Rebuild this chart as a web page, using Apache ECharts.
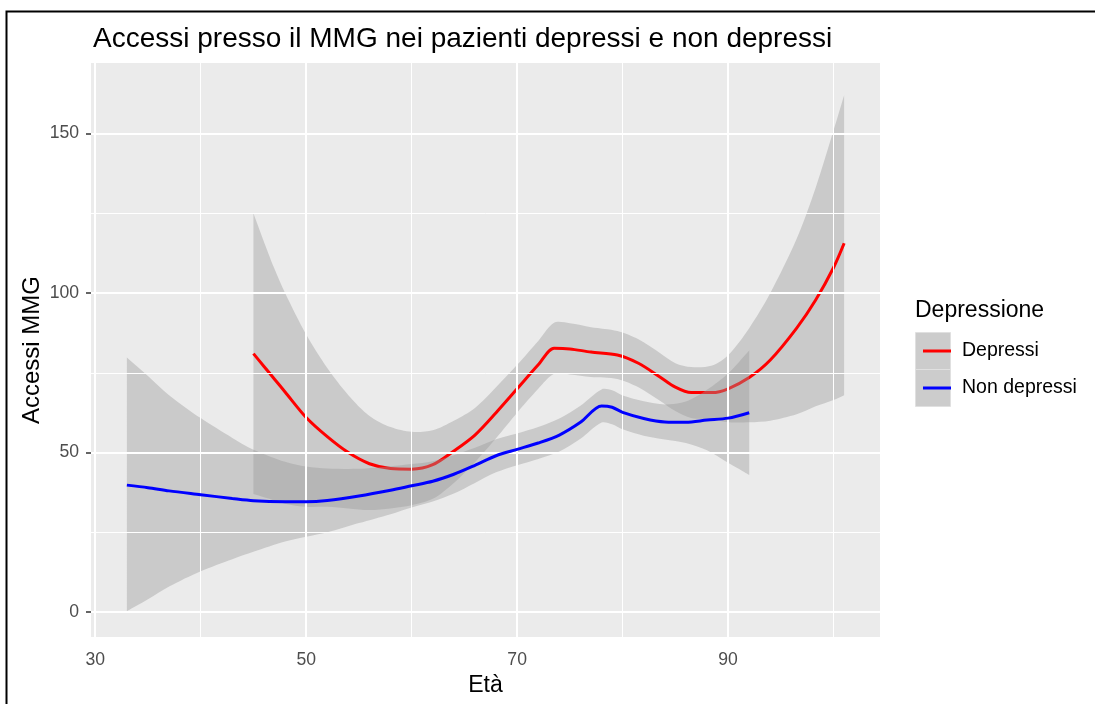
<!DOCTYPE html>
<html>
<head>
<meta charset="utf-8">
<script src="https://cdn.jsdelivr.net/npm/echarts@6/dist/echarts.min.js"></script>
<style>
html,body{margin:0;padding:0;background:#fff;}
#chart{width:1095px;height:704px;}
</style>
</head>
<body>
<div id="chart"></div>
<script>
// ---- data ----
const titleText = 'Accessi presso il MMG nei pazienti depressi e non depressi';
const xTicks = [30, 50, 70, 90];
const xMinorTicks = [40, 60, 80, 100];
const yTicks = [0, 50, 100, 150];
const yMinorTicks = [25, 75, 125];

const depressiAge = [45,46,47,48,50,52,54,56,58,60,62,64,66,68,70,72,73.5,75,77,79.5,81.5,83.5,85,86.5,88.5,90,92,94,96.5,98.3,100,101];
const depressiFit = [81,77,73,69,61,55,50,46.5,45,44.8,46.2,50.5,55.5,62.5,70,77.5,82.7,82.5,81.5,80.6,78,73.8,70.5,68.8,68.8,70,73.5,79,89,97.8,108,115.6];
const depressiUpper = [125,116,107.5,100,87,76.5,68,61.5,58,56.5,57,60,64,70.5,77.5,85,90.7,90.5,89.3,88.1,85.5,81.3,78,76.8,77.3,80.5,89,100,117,133,151,162];
const depressiLower = [37,36,35,34,33,33,32.5,32,32.5,33.5,35.5,40.5,47,54.5,62.5,70,74.7,74.5,73.7,73.1,70.5,66.3,63,60.8,60.3,59.5,59.5,60,62,64.5,66.5,68];

const nonAge = [33,35,37,40,43,45,48,50,52,55,58,60,62,64,66,68,70,72,74,76,78,79,80,82,84,86,88,90,92];
const nonFit = [39.8,39,38,36.8,35.6,34.9,34.6,34.6,35,36.4,38.2,39.6,41,43.2,46,49,51,53,55.5,59.5,64.6,64.2,62.6,60.7,59.6,59.5,60.2,60.8,62.5];
const nonUpper = [79.8,74,68,60.8,54.6,50.9,47.1,45.6,45,44.9,45.7,46.4,47.3,49.2,51.5,54.2,56,58,60.7,64.7,69.8,69.5,67.9,66.1,65.1,66,69.7,74.8,82];
const nonLower = [0.3,4,8,12.8,16.6,18.9,22.1,23.6,25,27.9,30.7,32.8,34.7,37.2,40.5,43.8,46,48,50.3,54.3,59.4,58.9,57.3,55.3,54.1,53,50.7,46.8,43];

// ---- helpers ----
const pairs = (xs, ys) => xs.map((x, i) => [x, ys[i]]);

const FONT = 'Liberation Sans, Arial, sans-serif';
const bandColor = 'rgba(153,153,153,0.4)';

// confidence ribbon drawn through the cartesian scales (api.coord)
function bandRenderer(ages, up, lo) {
  return function (params, api) {
    const top = ages.map((a, i) => api.coord([a, up[i]]));
    const bot = ages.map((a, i) => api.coord([a, lo[i]])).reverse();
    const n = top.length;
    const pts = [top[0]].concat(top, [top[n - 1], bot[0]], bot, [bot[n - 1]]);
    return {
      type: 'polygon',
      shape: { points: pts, smooth: 0.3 },
      style: { fill: bandColor, stroke: null }
    };
  };
}

const gridLines = []
  .concat(xTicks.map(v => ({ xAxis: v, lineStyle: { color: '#fff', width: 2, type: 'solid' } })))
  .concat(xMinorTicks.map(v => ({ xAxis: v, lineStyle: { color: '#fff', width: 1, type: 'solid' } })))
  .concat(yTicks.map(v => ({ yAxis: v, lineStyle: { color: '#fff', width: 2, type: 'solid' } })))
  .concat(yMinorTicks.map(v => ({ yAxis: v, lineStyle: { color: '#fff', width: 1, type: 'solid' } })));

const chart = echarts.init(document.getElementById('chart'), null, { renderer: 'canvas' });

const option = {
  animation: false,
  backgroundColor: '#ffffff',
  textStyle: { fontFamily: FONT },
  title: {
    text: titleText,
    left: 88,
    top: 20,
    textStyle: { fontFamily: FONT, fontSize: 28, fontWeight: 'normal', color: '#000' }
  },
  grid: {
    left: 91, right: 215, top: 63, bottom: 67,
    show: true, backgroundColor: '#EBEBEB', borderWidth: 0
  },
  legend: {
    orient: 'vertical',
    left: 918,
    top: 335,
    icon: 'rect',
    itemWidth: 28,
    itemHeight: 3,
    itemGap: 15,
    data: ['Depressi', 'Non depressi'],
    textStyle: { fontFamily: FONT, fontSize: 19.5, color: '#000', lineHeight: 22, padding: [0, 0, 0, 6] }
  },
  xAxis: {
    type: 'value',
    min: 29.6,
    max: 104.4,
    name: 'Età',
    nameLocation: 'middle',
    nameGap: 35,
    nameTextStyle: { fontFamily: FONT, fontSize: 23, color: '#000' },
    axisLine: { show: false },
    axisTick: { show: true, customValues: xTicks, length: 5, lineStyle: { color: '#333', width: 1.5 } },
    axisLabel: { customValues: xTicks, margin: 14, fontFamily: FONT, fontSize: 17.6, color: '#4D4D4D' },
    splitLine: { show: false }
  },
  yAxis: {
    type: 'value',
    min: -7.8,
    max: 172.1,
    name: 'Accessi MMG',
    nameLocation: 'middle',
    nameRotate: 90,
    nameGap: 47,
    nameMoveOverlap: false,
    nameTextStyle: { fontFamily: FONT, fontSize: 24, color: '#000' },
    axisLine: { show: false },
    axisTick: { show: true, customValues: yTicks, length: 5, lineStyle: { color: '#333', width: 1.5 } },
    axisLabel: { customValues: yTicks, margin: 12, fontFamily: FONT, fontSize: 17.6, color: '#4D4D4D' },
    splitLine: { show: false }
  },
  graphic: [
    { type: 'rect', left: 4, top: 9, z: 100, silent: true,
      shape: { x: 0, y: 0, width: 1200, height: 800 },
      style: { fill: null, stroke: '#000', lineWidth: 2 } },
    { type: 'text', left: 915, top: 299, z: 100,
      style: { text: 'Depressione', fontFamily: FONT, fontSize: 23, fill: '#000' } },
    { type: 'rect', left: 915, top: 332, z: 1,
      shape: { width: 35, height: 37 }, style: { fill: '#CCCCCC', stroke: '#E0E0E0', lineWidth: 1 } },
    { type: 'rect', left: 915, top: 369, z: 1,
      shape: { width: 35, height: 37 }, style: { fill: '#CCCCCC', stroke: '#E0E0E0', lineWidth: 1 } }
  ],
  series: [
    { name: 'grid', type: 'line', z: 1, data: [[30, 0]], symbol: 'none', silent: true,
      lineStyle: { opacity: 0 }, legendHoverLink: false,
      markLine: { silent: true, symbol: 'none', label: { show: false }, animation: false, data: gridLines } },
    { name: 'depBand', type: 'custom', z: 2, silent: true, clip: true,
      coordinateSystem: 'cartesian2d',
      data: [[depressiAge[0], depressiFit[0]]],
      renderItem: bandRenderer(depressiAge, depressiUpper, depressiLower) },
    { name: 'Depressi', type: 'line', z: 3, smooth: 0.3, symbol: 'none',
      data: pairs(depressiAge, depressiFit), itemStyle: { color: '#FF0000' },
      lineStyle: { color: '#FF0000', width: 3 } },
    { name: 'nonBand', type: 'custom', z: 4, silent: true, clip: true,
      coordinateSystem: 'cartesian2d',
      data: [[nonAge[0], nonFit[0]]],
      renderItem: bandRenderer(nonAge, nonUpper, nonLower) },
    { name: 'Non depressi', type: 'line', z: 5, smooth: 0.3, symbol: 'none',
      data: pairs(nonAge, nonFit), itemStyle: { color: '#0000FF' },
      lineStyle: { color: '#0000FF', width: 3 } }
  ]
};
chart.setOption(option);
</script>
</body>
</html>
